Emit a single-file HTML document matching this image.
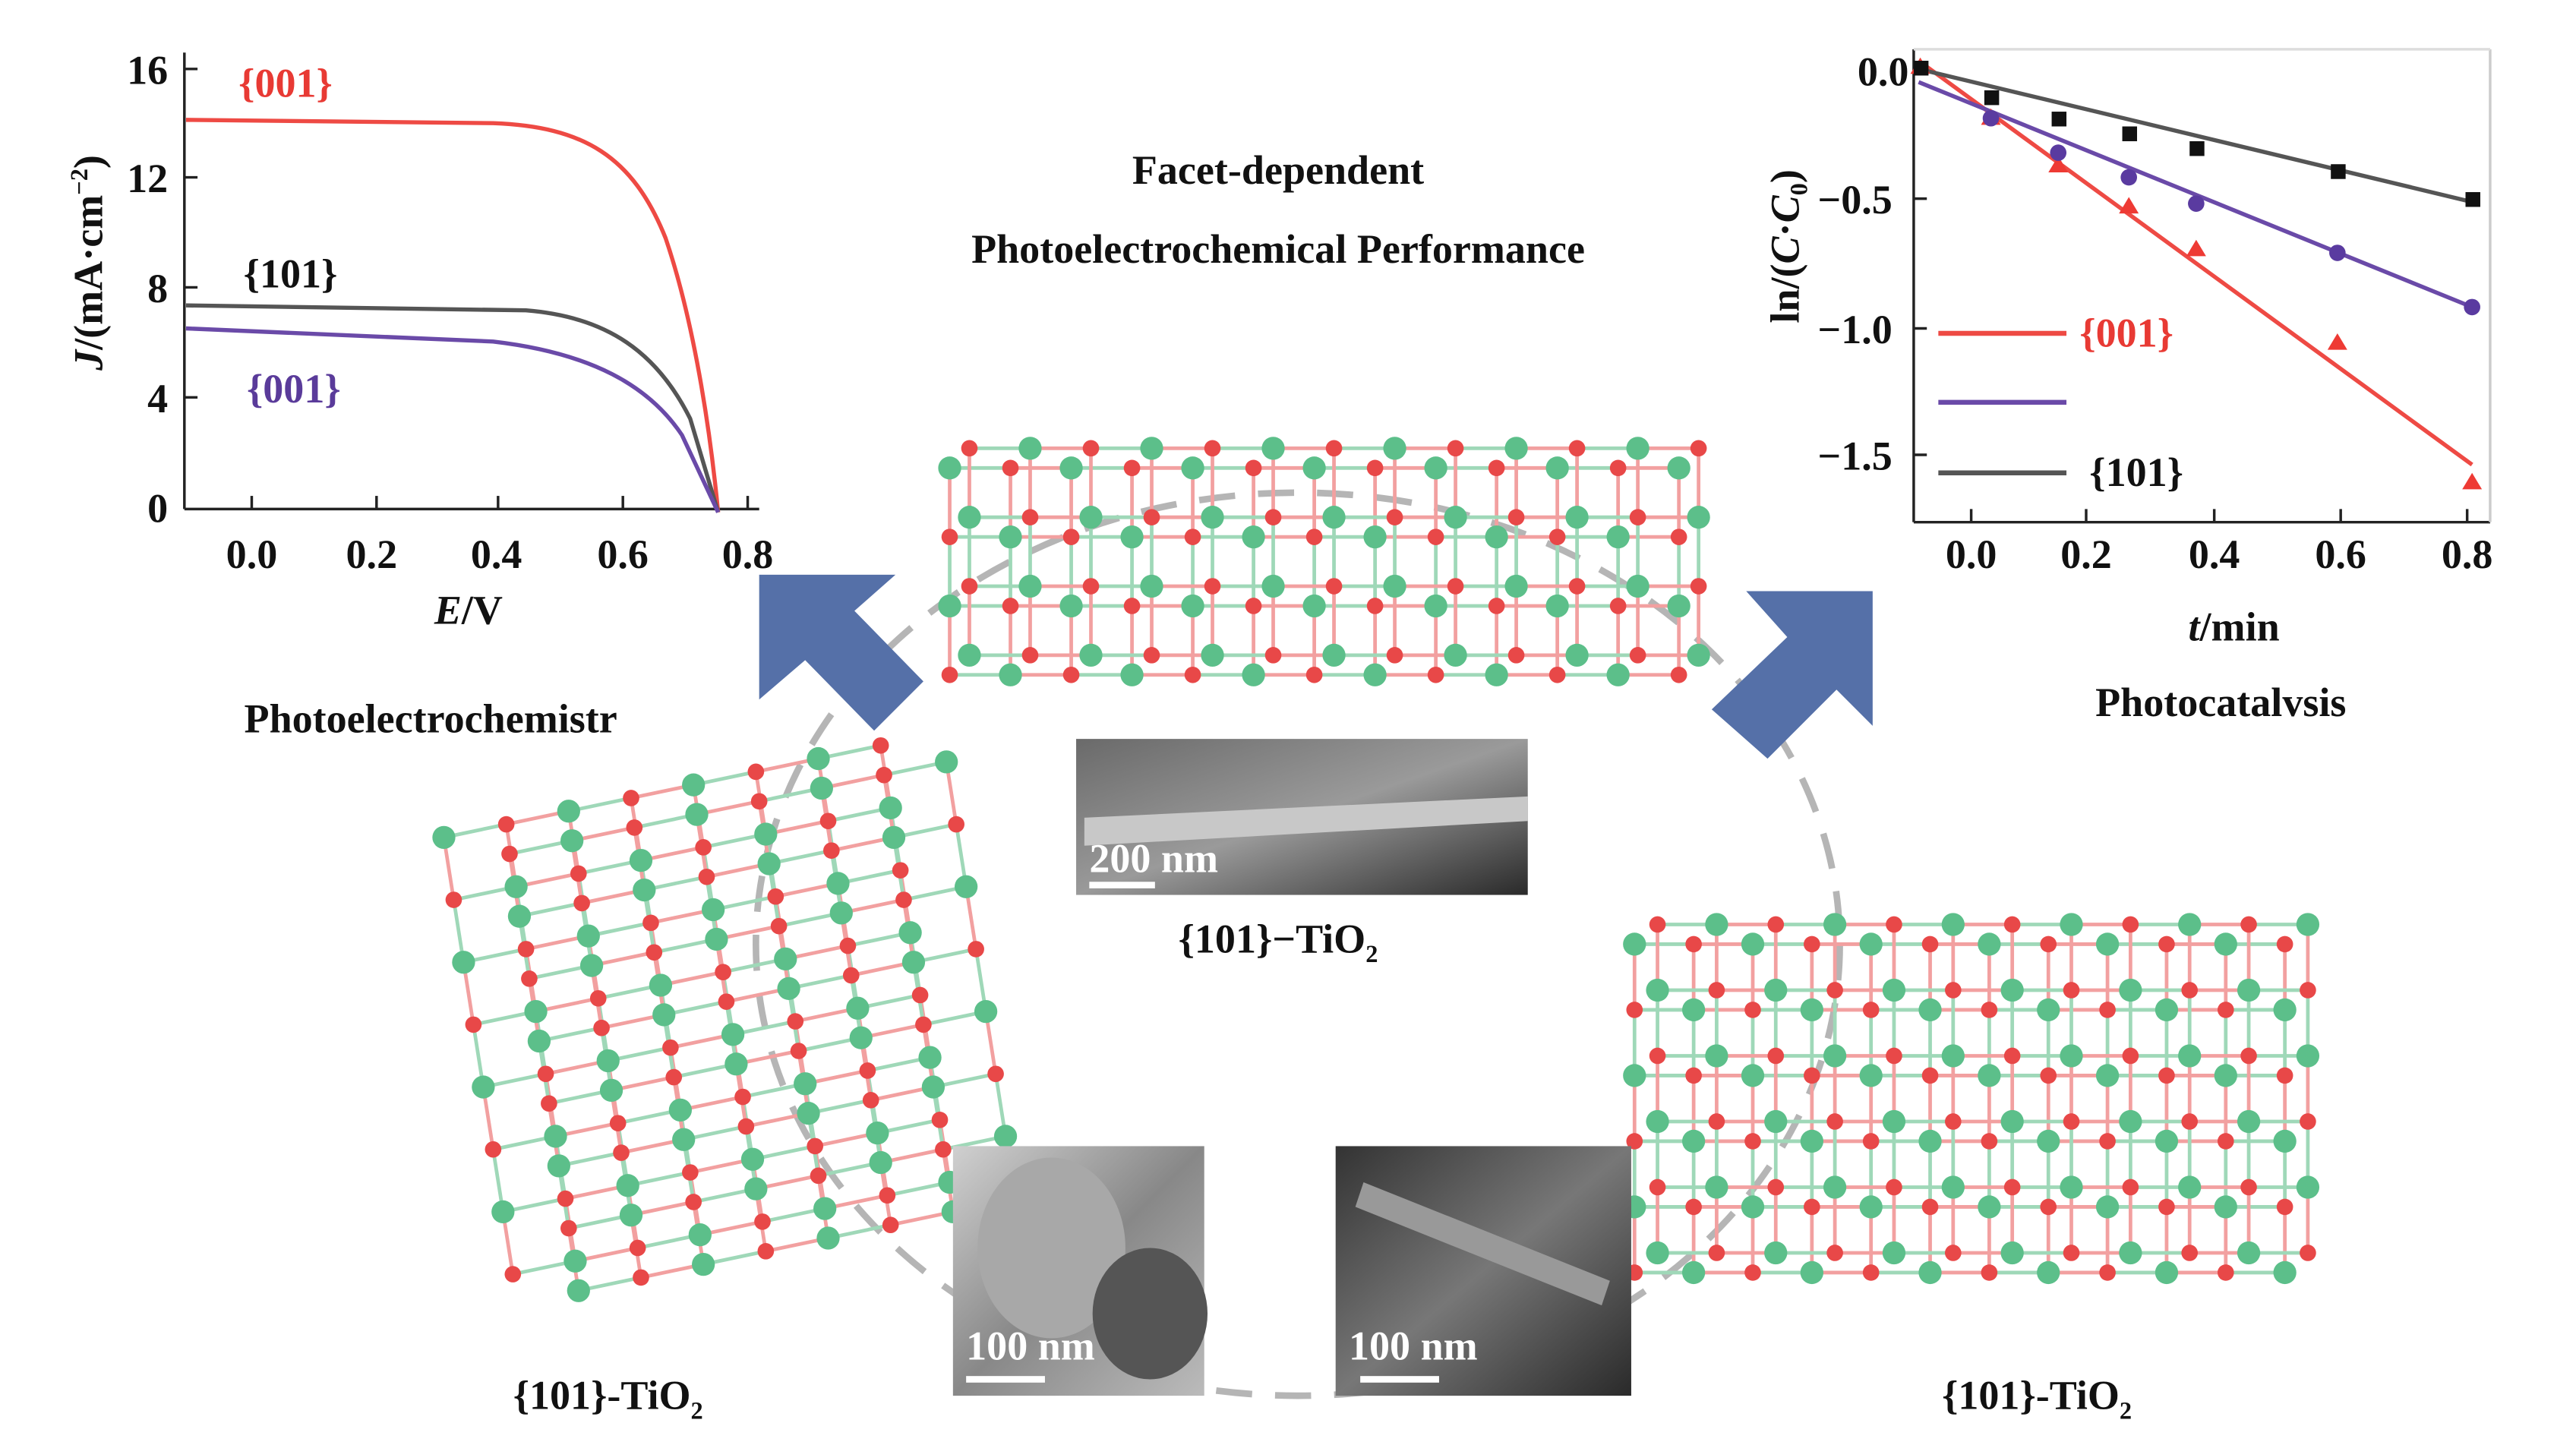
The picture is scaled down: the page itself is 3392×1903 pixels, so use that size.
<!DOCTYPE html>
<html><head><meta charset="utf-8"><style>
html,body{margin:0;padding:0;background:#fff;}
svg{display:block}
text{font-family:"Liberation Serif",serif;font-weight:bold;}
</style></head><body>
<svg id="s" width="3392" height="1903" viewBox="0 0 1568 880" xmlns="http://www.w3.org/2000/svg">
<rect width="1568" height="880" fill="#fff"/>
<ellipse cx="790" cy="575" rx="330" ry="275" fill="none" stroke="#b5b5b5" stroke-width="4" stroke-dasharray="22 14"/>
<g id="cry"></g>
<g stroke="#222" stroke-width="1.6" fill="none">
<line x1="112" y1="32" x2="112" y2="310"/>
<line x1="112" y1="310" x2="462" y2="310"/>
<line x1="112" y1="42" x2="120" y2="42"/><line x1="112" y1="108" x2="120" y2="108"/><line x1="112" y1="175" x2="120" y2="175"/><line x1="112" y1="242" x2="120" y2="242"/>
<line x1="153" y1="310" x2="153" y2="302"/><line x1="229" y1="310" x2="229" y2="302"/><line x1="303" y1="310" x2="303" y2="302"/><line x1="379" y1="310" x2="379" y2="302"/><line x1="455" y1="310" x2="455" y2="302"/>
</g>
<g font-size="25" fill="#111">
<text x="102" y="51" text-anchor="end">16</text><text x="102" y="117" text-anchor="end">12</text><text x="102" y="184" text-anchor="end">8</text><text x="102" y="251" text-anchor="end">4</text><text x="102" y="318" text-anchor="end">0</text>
<text x="153" y="346" text-anchor="middle">0.0</text><text x="226" y="346" text-anchor="middle">0.2</text><text x="302" y="346" text-anchor="middle">0.4</text><text x="379" y="346" text-anchor="middle">0.6</text><text x="455" y="346" text-anchor="middle">0.8</text>
<text x="285" y="380" text-anchor="middle"><tspan font-style="italic">E</tspan>/V</text>
<text transform="translate(62,160) rotate(-90)" text-anchor="middle"><tspan font-style="italic">J</tspan>/(mA·cm<tspan font-size="15" dy="-9">−2</tspan><tspan dy="9">)</tspan></text>
</g>
<path d="M113,73 L300,75 C355,77 385,95 405,145 C422,195 432,260 437,312" fill="none" stroke="#ee4a44" stroke-width="2.5"/>
<path d="M113,186 L320,189 C370,193 400,215 420,255 L437,312" fill="none" stroke="#555" stroke-width="2.5"/>
<path d="M113,200 L300,208 C360,215 395,235 415,265 L437,312" fill="none" stroke="#6a4aa8" stroke-width="2.5"/>
<text x="145" y="59" font-size="25" fill="#e83a34">{001}</text>
<text x="148" y="175" font-size="25" fill="#111">{101}</text>
<text x="150" y="245" font-size="25" fill="#5a3b9a">{001}</text>
<text x="262" y="446" font-size="25" fill="#111" text-anchor="middle">Photoelectrochemistr</text>
<text x="778" y="112" font-size="25" fill="#111" text-anchor="middle">Facet-dependent</text>
<text x="778" y="160" font-size="25" fill="#111" text-anchor="middle">Photoelectrochemical Performance</text>
<polygon points="462,350 545,350 520,372 562,415 532,445 490,402 462,426" fill="#5570a8"/>
<polygon points="1140,360 1140,442 1118,420 1076,462 1042,432 1088,388 1063,360" fill="#5570a8"/>
<g stroke="#222" stroke-width="1.6" fill="none">
<line x1="1165" y1="30" x2="1165" y2="318"/>
<line x1="1165" y1="318" x2="1516" y2="318"/>
<line x1="1516" y1="30" x2="1516" y2="318" stroke="#ccc"/>
<line x1="1165" y1="30" x2="1516" y2="30" stroke="#ddd"/>
<line x1="1165" y1="43" x2="1173" y2="43"/><line x1="1165" y1="121" x2="1173" y2="121"/><line x1="1165" y1="200" x2="1173" y2="200"/><line x1="1165" y1="277" x2="1173" y2="277"/>
<line x1="1200" y1="318" x2="1200" y2="310"/><line x1="1270" y1="318" x2="1270" y2="310"/><line x1="1348" y1="318" x2="1348" y2="310"/><line x1="1425" y1="318" x2="1425" y2="310"/><line x1="1502" y1="318" x2="1502" y2="310"/>
</g>
<g font-size="25" fill="#111">
<text x="1162" y="52" text-anchor="end">0.0</text><text x="1152" y="130" text-anchor="end">−0.5</text><text x="1152" y="209" text-anchor="end">−1.0</text><text x="1152" y="286" text-anchor="end">−1.5</text>
<text x="1200" y="346" text-anchor="middle">0.0</text><text x="1270" y="346" text-anchor="middle">0.2</text><text x="1348" y="346" text-anchor="middle">0.4</text><text x="1425" y="346" text-anchor="middle">0.6</text><text x="1502" y="346" text-anchor="middle">0.8</text>
<text x="1360" y="390" text-anchor="middle"><tspan font-style="italic">t</tspan>/min</text>
<text transform="translate(1095,150) rotate(-90)" text-anchor="middle">ln/(<tspan font-style="italic">C</tspan>·<tspan font-style="italic">C</tspan><tspan font-size="15" dy="5">0</tspan><tspan dy="-5">)</tspan></text>
<text x="1352" y="436" text-anchor="middle">Photocatalvsis</text>
</g>
<line x1="1168" y1="37" x2="1505" y2="283" stroke="#ee4a44" stroke-width="2.5"/>
<line x1="1168" y1="50" x2="1505" y2="187" stroke="#6a4aa8" stroke-width="2.5"/>
<line x1="1168" y1="42" x2="1505" y2="123" stroke="#555" stroke-width="2.5"/>
<g fill="#ee3a34">
<polygon points="1169,35 1175,45 1163,45"/><polygon points="1212,66 1218,76 1206,76"/><polygon points="1253,95 1259,105 1247,105"/><polygon points="1296,120 1302,130 1290,130"/><polygon points="1337,146 1343,156 1331,156"/><polygon points="1423,203 1429,213 1417,213"/><polygon points="1505,288 1511,298 1499,298"/>
</g>
<g fill="#5a3ba0"><circle cx="1212" cy="72" r="5"/><circle cx="1253" cy="93" r="5"/><circle cx="1296" cy="108" r="5"/><circle cx="1337" cy="124" r="5"/><circle cx="1423" cy="154" r="5"/><circle cx="1505" cy="187" r="5"/></g>
<g fill="#111"><rect x="1165" y="37" width="9" height="9"/><rect x="1208" y="55" width="9" height="9"/><rect x="1249" y="68" width="9" height="9"/><rect x="1292" y="77" width="9" height="9"/><rect x="1333" y="86" width="9" height="9"/><rect x="1419" y="100" width="9" height="9"/><rect x="1501" y="117" width="9" height="9"/></g>
<line x1="1180" y1="203" x2="1258" y2="203" stroke="#ee4a44" stroke-width="3"/>
<line x1="1180" y1="245" x2="1258" y2="245" stroke="#6a4aa8" stroke-width="3"/>
<line x1="1180" y1="288" x2="1258" y2="288" stroke="#555" stroke-width="3"/>
<text x="1266" y="211" font-size="25" fill="#e83a34">{001}</text>
<text x="1272" y="296" font-size="25" fill="#111">{101}</text>
<defs>
<linearGradient id="g1" x1="0" y1="0" x2="1" y2="1"><stop offset="0" stop-color="#6a6a6a"/><stop offset="0.5" stop-color="#9a9a9a"/><stop offset="1" stop-color="#2a2a2a"/></linearGradient>
<linearGradient id="g2" x1="0" y1="0" x2="1" y2="1"><stop offset="0" stop-color="#d0d0d0"/><stop offset="0.5" stop-color="#888"/><stop offset="1" stop-color="#bbb"/></linearGradient>
<linearGradient id="g3" x1="0" y1="0" x2="1" y2="1"><stop offset="0" stop-color="#333"/><stop offset="0.5" stop-color="#777"/><stop offset="1" stop-color="#2a2a2a"/></linearGradient>
</defs>
<rect x="655" y="450" width="275" height="95" fill="url(#g1)"/>
<path d="M660,498 L930,485 L930,500 L660,515Z" fill="#c8c8c8"/>
<rect x="580" y="698" width="153" height="152" fill="url(#g2)"/>
<ellipse cx="640" cy="760" rx="45" ry="55" fill="#a8a8a8"/><ellipse cx="700" cy="800" rx="35" ry="40" fill="#555"/>
<rect x="813" y="698" width="180" height="152" fill="url(#g3)"/>
<path d="M830,720 L980,780 L975,795 L825,735Z" fill="#999"/>
<g font-size="25" fill="#fff">
<text x="663" y="531">200 nm</text><rect x="663" y="537" width="40" height="4"/>
<text x="588" y="828">100 nm</text><rect x="588" y="838" width="48" height="4"/>
<text x="821" y="828">100 nm</text><rect x="828" y="838" width="48" height="4"/>
</g>
<g font-size="25" fill="#111" text-anchor="middle">
<text x="778" y="580">{101}−TiO<tspan font-size="15" dy="6">2</tspan></text>
<text x="370" y="858">{101}-TiO<tspan font-size="15" dy="6">2</tspan></text>
<text x="1240" y="858">{101}-TiO<tspan font-size="15" dy="6">2</tspan></text>
</g>
</svg>
<script>
(function(){
var g=document.getElementById('cry'),NS='http://www.w3.org/2000/svg';
function el(t,a){var e=document.createElementNS(NS,t);for(var k in a)e.setAttribute(k,a[k]);g.appendChild(e);}
function lattice(x0,y0,cols,rows,dx,dy,sx,sy,layers,ox,oy){
 var pts=[];
 for(var L=0;L<layers;L++)for(var r=0;r<rows;r++)for(var c=0;c<cols;c++){
  var x=x0+c*dx+r*sx+L*ox,y=y0+r*dy+c*sy+L*oy;
  pts.push([x,y,(r+c+L)%2]);
  if(c<cols-1){var x2=x+dx,y2=y+sy;el('line',{x1:x,y1:y,x2:x2,y2:y2,stroke:(c%2?'#f2a0a0':'#9fd8b8'),'stroke-width':2.2});}
  if(r<rows-1){var x3=x+sx,y3=y+dy;el('line',{x1:x,y1:y,x2:x3,y2:y3,stroke:(r%2?'#9fd8b8':'#f2a0a0'),'stroke-width':2.2});}
 }
 pts.forEach(function(p){el('circle',{cx:p[0],cy:p[1],r:p[2]?5:7,fill:p[2]?'#e84848':'#5cbf8a'});});
}
lattice(578,285,13,4,37,42,0,0,2,12,-12);
lattice(270,510,8,8,38,38,6,-8,2,40,10);
lattice(995,575,12,6,36,40,0,0,2,14,-12);
})();
</script>
</body></html>
